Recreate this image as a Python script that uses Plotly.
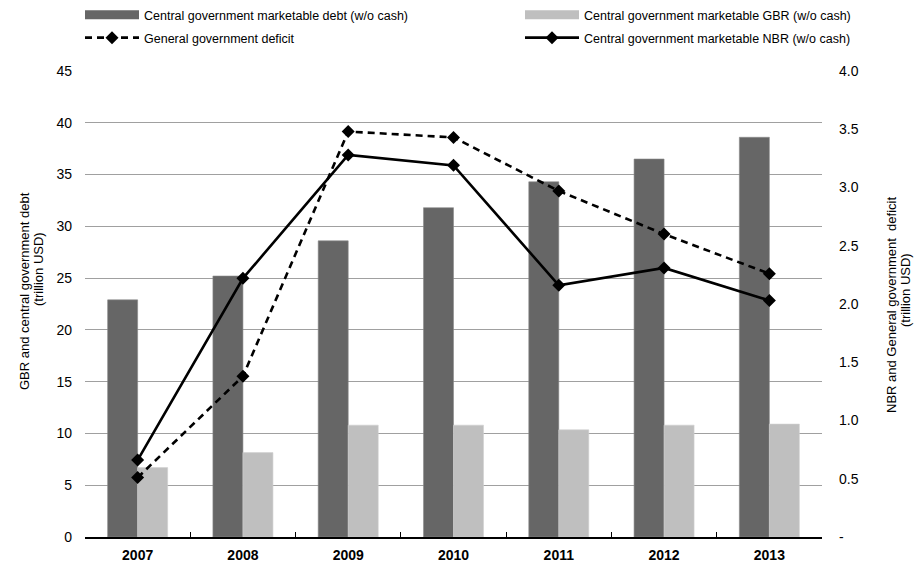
import plotly.graph_objects as go

years = ["2007", "2008", "2009", "2010", "2011", "2012", "2013"]
debt = [22.9, 25.2, 28.6, 31.8, 34.3, 36.5, 38.6]
gbr = [6.7, 8.15, 10.8, 10.8, 10.35, 10.8, 10.9]
deficit = [0.51, 1.38, 3.48, 3.43, 2.97, 2.60, 2.26]
nbr = [0.66, 2.22, 3.28, 3.19, 2.16, 2.31, 2.03]

left_ticks = [0, 5, 10, 15, 20, 25, 30, 35, 40, 45]
right_ticks = [0, 0.5, 1.0, 1.5, 2.0, 2.5, 3.0, 3.5, 4.0]
right_text = ["-", "0.5", "1.0", "1.5", "2.0", "2.5", "3.0", "3.5", "4.0"]

ARIAL = "Liberation Sans, Arial, sans-serif"
DARK = "#666666"
LIGHT = "#bfbfbf"

fig = go.Figure()

fig.add_trace(go.Bar(x=years, y=debt, marker_color=DARK, showlegend=False,
                     marker_line=dict(color="#8a8a8a", width=0.6),
                     name="Central government marketable debt (w/o cash)"))
fig.add_trace(go.Bar(x=years, y=gbr, marker_color=LIGHT, showlegend=False,
                     marker_line=dict(color="#d0d0d0", width=0.6),
                     name="Central government marketable GBR (w/o cash)"))
fig.add_trace(go.Scatter(x=years, y=deficit, yaxis="y2", mode="lines+markers",
                         line=dict(color="black", width=2.6, dash="7px,5px"),
                         marker=dict(symbol="diamond", size=10, color="black"),
                         name="General government deficit", legend="legend3"))
fig.add_trace(go.Scatter(x=years, y=nbr, yaxis="y2", mode="lines+markers",
                         line=dict(color="black", width=2.6),
                         marker=dict(symbol="diamond", size=10, color="black"),
                         name="Central government marketable NBR (w/o cash)", legend="legend4"))
# legend-only entries for bars (wide rectangle swatches)
fig.add_trace(go.Scatter(x=[None], y=[None], mode="lines",
                         line=dict(color=DARK, width=9),
                         name="Central government marketable debt (w/o cash)", legend="legend"))
fig.add_trace(go.Scatter(x=[None], y=[None], mode="lines",
                         line=dict(color=LIGHT, width=9),
                         name="Central government marketable GBR (w/o cash)", legend="legend2"))

W, H = 921, 563
def leg(px, py):
    return dict(x=px / W, y=1 - py / H, xref="container", yref="container",
                xanchor="left", yanchor="middle", orientation="v",
                bgcolor="rgba(0,0,0,0)", itemwidth=54,
                font=dict(family=ARIAL, size=12.5, color="black"),
                tracegroupgap=0, itemclick=False)

fig.update_layout(
    width=W, height=H,
    margin=dict(l=85, r=99, t=71, b=26, autoexpand=False),
    paper_bgcolor="white", plot_bgcolor="white",
    barmode="group", bargap=0.43, bargroupgap=0,
    showlegend=True,
    legend=leg(80, 15),
    legend2=leg(520, 15),
    legend3=leg(80, 38),
    legend4=leg(520, 38),
    xaxis=dict(type="category", showgrid=False, showline=True, linecolor="black",
               linewidth=1.5, ticks="inside", tickson="boundaries", ticklen=5,
               tickcolor="black", tickwidth=1.2, tickangle=0,
               tickfont=dict(family=ARIAL, size=14, color="black", weight="bold"),
               ticklabelstandoff=4),
    yaxis=dict(range=[0, 45], tickvals=left_ticks, showgrid=True, gridcolor="#a0a0a0",
               gridwidth=1.4, zeroline=False, showline=False, ticks="",
               tickfont=dict(family=ARIAL, size=14, color="black"),
               ticklabelstandoff=12),
    yaxis2=dict(range=[0, 4], tickvals=right_ticks, ticktext=right_text,
                overlaying="y", side="right", showgrid=False, zeroline=False,
                showline=False, ticks="",
                tickfont=dict(family=ARIAL, size=14, color="black"),
                ticklabelstandoff=16),
)

ann_font = dict(family=ARIAL, size=13, color="black")
pw = W - 85 - 99
ph = H - 71 - 26
def ann(text, px, py):
    fig.add_annotation(text=text, x=(px - 85) / pw, y=1 - (py - 71) / ph,
                       xref="paper", yref="paper", showarrow=False, textangle=-90,
                       xanchor="center", yanchor="middle", font=ann_font)

ann("GBR and central government debt", 24, 291)
ann("(trillion USD)", 38, 269)
ann("NBR and General government  deficit", 891, 305)
ann("(trillion USD)", 905, 290)

fig.write_html("out.html", config={"displayModeBar": False},
               post_script="document.body.style.margin='0px';")
